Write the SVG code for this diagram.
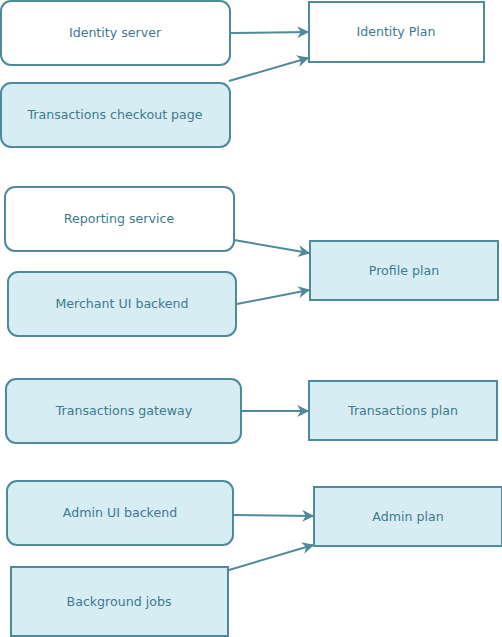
<svg xmlns="http://www.w3.org/2000/svg" width="502" height="637" viewBox="0 0 502 637">
<defs>
<style>
.n{stroke:#4f8a9b;stroke-width:2;}
.w{fill:#ffffff;}
.f{fill:#d7edf4;}
.t{font-family:"DejaVu Sans",sans-serif;font-size:12.6px;fill:#3e7a8c;text-anchor:middle;dominant-baseline:central;}
.e{stroke:#4f8a9b;stroke-width:2;fill:none;marker-end:url(#a);}
</style>
<marker id="a" viewBox="0 0 10 10" refX="9" refY="5" markerWidth="13" markerHeight="12" markerUnits="userSpaceOnUse" orient="auto">
<path d="M0,0 L10,5 L0,10 L3,5 z" fill="#4f8a9b"/>
</marker>
</defs>
<rect width="502" height="637" fill="#ffffff"/>
<g id="connectors">
<line class="e" x1="231" y1="33" x2="308" y2="32"/>
<line class="e" x1="229" y1="81" x2="308" y2="58"/>
<line class="e" x1="234" y1="240" x2="309" y2="253"/>
<line class="e" x1="237" y1="304" x2="309" y2="290"/>
<line class="e" x1="241" y1="411" x2="308" y2="411"/>
<line class="e" x1="233" y1="515" x2="313" y2="516"/>
<line class="e" x1="229" y1="570" x2="313" y2="545"/>
</g>
<g id="identity-server"><rect class="n w" x="1" y="1" width="229" height="64" rx="10"/><text class="t" x="115" y="32">Identity server</text></g>
<g id="transactions-checkout"><rect class="n f" x="1" y="83" width="229" height="64" rx="10"/><text class="t" x="115" y="114">Transactions checkout page</text></g>
<g id="identity-plan"><rect class="n w" x="309" y="2" width="175" height="60"/><text class="t" x="396" y="31">Identity Plan</text></g>
<g id="reporting-service"><rect class="n w" x="5" y="187" width="229" height="64" rx="10"/><text class="t" x="119" y="218">Reporting service</text></g>
<g id="merchant-ui"><rect class="n f" x="8" y="272" width="228" height="64" rx="10"/><text class="t" x="122" y="303">Merchant UI backend</text></g>
<g id="profile-plan"><rect class="n f" x="310" y="241" width="188" height="59"/><text class="t" x="404" y="270">Profile plan</text></g>
<g id="transactions-gateway"><rect class="n f" x="6" y="379" width="235" height="64" rx="10"/><text class="t" x="124" y="410">Transactions gateway</text></g>
<g id="transactions-plan"><rect class="n f" x="309" y="381" width="188" height="59"/><text class="t" x="403" y="410">Transactions plan</text></g>
<g id="admin-ui"><rect class="n f" x="7" y="481" width="226" height="64" rx="10"/><text class="t" x="120" y="512">Admin UI backend</text></g>
<g id="admin-plan"><rect class="n f" x="314" y="487" width="188" height="59"/><text class="t" x="408" y="516">Admin plan</text></g>
<g id="background-jobs"><rect class="n f" x="11" y="567" width="217" height="69"/><text class="t" x="119" y="601">Background jobs</text></g>
</svg>
